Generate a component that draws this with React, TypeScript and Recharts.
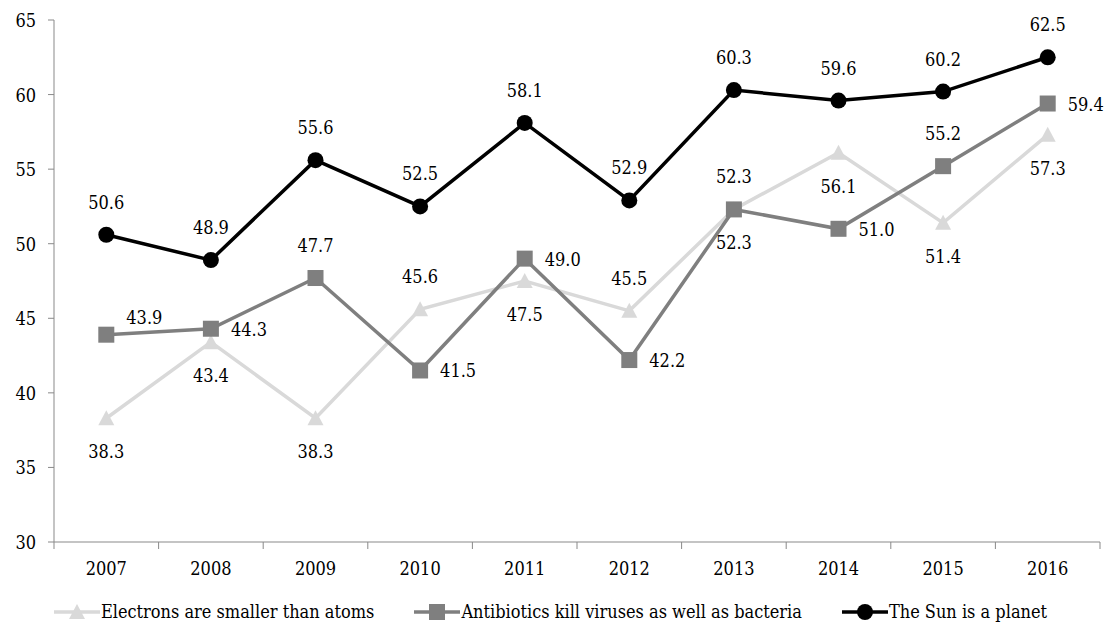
import React from 'react';
import { LineChart, Line, XAxis, YAxis } from 'recharts';

const years = ['2007', '2008', '2009', '2010', '2011', '2012', '2013', '2014', '2015', '2016'];
const electrons = [38.3, 43.4, 38.3, 45.6, 47.5, 45.5, 52.3, 56.1, 51.4, 57.3];
const antibiotics = [43.9, 44.3, 47.7, 41.5, 49.0, 42.2, 52.3, 51.0, 55.2, 59.4];
const sunPlanet = [50.6, 48.9, 55.6, 52.5, 58.1, 52.9, 60.3, 59.6, 60.2, 62.5];
const yTicks = [30, 35, 40, 45, 50, 55, 60, 65];

// where each value label sits relative to its marker
const electronsPlace = ['below', 'below', 'below', 'above', 'below', 'above', 'below', 'below', 'below', 'below'];
const antibioticsPlace = ['upright', 'right', 'above', 'right', 'right', 'right', 'above', 'right', 'above', 'right'];
const sunPlace = years.map(() => 'above');

const data = years.map((y, i) => ({
  idx: i,
  year: y,
  electrons: electrons[i],
  antibiotics: antibiotics[i],
  sun: sunPlanet[i],
}));

const FONT = '"DejaVu Serif Condensed", "DejaVu Serif", serif';
const FS = 18;
const AXIS = '#898989';
const txt = { fontFamily: FONT, fontStretch: 'condensed' } as React.CSSProperties;

const makeLabel = (places: string[]) => (props: any) => {
  const { x, y, value, index } = props;
  const p = places[index];
  let dx = 0;
  let dy = 0;
  let anchor: 'middle' | 'start' = 'middle';
  if (p === 'above') dy = -26;
  if (p === 'below') dy = 40;
  if (p === 'right') { dx = 20; dy = 7; anchor = 'start'; }
  if (p === 'upright') { dx = 20; dy = -11; anchor = 'start'; }
  return (
    <text x={x + dx} y={y + dy} textAnchor={anchor} style={txt} fontSize={FS} fill="#000">
      {Number(value).toFixed(1)}
    </text>
  );
};

const Triangle = (props: any) => {
  const { cx, cy } = props;
  if (cx == null || cy == null) return null;
  return <path d={`M${cx},${cy - 8} L${cx + 8},${cy + 7} L${cx - 8},${cy + 7} Z`} fill="#d9d9d9" />;
};

const Square = (props: any) => {
  const { cx, cy } = props;
  if (cx == null || cy == null) return null;
  return <rect x={cx - 8} y={cy - 8} width={16} height={16} fill="#7f7f7f" />;
};

const Dot = (props: any) => {
  const { cx, cy } = props;
  if (cx == null || cy == null) return null;
  return <circle cx={cx} cy={cy} r={8} fill="#000" />;
};

const XTick = (props: any) => {
  const { x, y, payload } = props;
  const v = payload.value;
  if (!Number.isInteger(v)) {
    return <line x1={x} y1={y} x2={x} y2={y + 7} stroke={AXIS} strokeWidth={1} />;
  }
  return (
    <text x={x} y={y + 33} textAnchor="middle" style={txt} fontSize={FS} fill="#000">
      {years[v]}
    </text>
  );
};

const YTick = (props: any) => {
  const { x, y, payload } = props;
  return (
    <text x={x} y={y + 7} textAnchor="end" style={txt} fontSize={FS} fill="#000">
      {payload.value}
    </text>
  );
};

const xTicks = years.flatMap((_, i) => (i === 0 ? [-0.5, 0] : [i - 0.5, i])).concat([years.length - 0.5]);

const legendItems = [
  { name: 'Electrons are smaller than atoms', color: '#d9d9d9', shape: 'triangle' },
  { name: 'Antibiotics kill viruses as well as bacteria', color: '#7f7f7f', shape: 'square' },
  { name: 'The Sun is a planet', color: '#000', shape: 'circle' },
];

const LegendIcon = ({ color, shape }: { color: string; shape: string }) => (
  <svg width={46} height={20} style={{ marginRight: 1 }}>
    <line x1={0} y1={10} x2={46} y2={10} stroke={color} strokeWidth={3.5} />
    {shape === 'triangle' && <path d="M23,2 L31,17 L15,17 Z" fill={color} />}
    {shape === 'square' && <rect x={15} y={2} width={16} height={16} fill={color} />}
    {shape === 'circle' && <circle cx={23} cy={10} r={8} fill={color} />}
  </svg>
);

export default function App() {
  return (
    <div style={{ position: 'absolute', left: 0, top: 0, width: 1115, height: 633, background: '#fff' }}>
      <LineChart width={1115} height={633} data={data} margin={{ top: 20, right: 15, left: 0, bottom: 51 }}>
        <XAxis
          dataKey="idx"
          type="number"
          domain={[-0.5, years.length - 0.5]}
          ticks={xTicks}
          interval={0}
          tick={<XTick />}
          tickLine={false}
          tickSize={0}
          tickMargin={0}
          height={40}
          axisLine={{ stroke: AXIS, strokeWidth: 1 }}
        />
        <YAxis
          domain={[30, 65]}
          ticks={yTicks}
          interval={0}
          width={54}
          tickSize={6}
          tickMargin={12}
          axisLine={{ stroke: AXIS, strokeWidth: 1 }}
          tickLine={{ stroke: AXIS, strokeWidth: 1 }}
          tick={<YTick />}
        />
        <Line
          dataKey="electrons"
          stroke="#d9d9d9"
          strokeWidth={3.5}
          dot={<Triangle />}
          activeDot={false}
          label={makeLabel(electronsPlace)}
          isAnimationActive={false}
        />
        <Line
          dataKey="antibiotics"
          stroke="#7f7f7f"
          strokeWidth={3.5}
          dot={<Square />}
          activeDot={false}
          label={makeLabel(antibioticsPlace)}
          isAnimationActive={false}
        />
        <Line
          dataKey="sun"
          stroke="#000"
          strokeWidth={3.5}
          dot={<Dot />}
          activeDot={false}
          label={makeLabel(sunPlace)}
          isAnimationActive={false}
        />
      </LineChart>
      <div
        style={{
          position: 'absolute',
          left: 0,
          top: 601,
          width: 1101,
          display: 'flex',
          justifyContent: 'center',
          alignItems: 'center',
          ...txt,
          fontSize: FS,
          color: '#000',
          gap: 40,
        }}
      >
        {legendItems.map((it) => (
          <div key={it.name} style={{ display: 'flex', alignItems: 'center' }}>
            <LegendIcon color={it.color} shape={it.shape} />
            <span>{it.name}</span>
          </div>
        ))}
      </div>
    </div>
  );
}
